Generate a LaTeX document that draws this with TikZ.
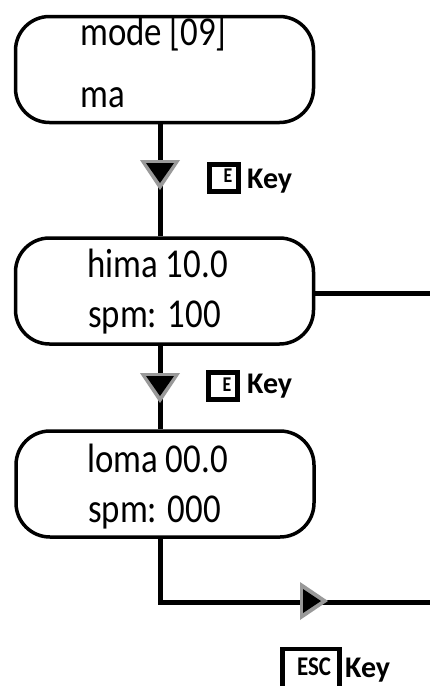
\documentclass[tikz,border=0pt]{standalone}
\usepackage{fontspec}
\setmainfont{Carlito}
\newfontfamily\dispfont[FakeStretch=0.85]{Carlito}
\begin{document}
\begin{tikzpicture}[x=1pt,y=-1pt,
  box/.style={draw, line width=3.5pt, rounded corners=34pt, minimum width=298pt, minimum height=106pt, inner sep=0pt},
  disp/.style={anchor=base west, inner sep=0pt, font=\dispfont\fontsize{41}{41}\selectfont},
  link/.style={line width=5pt},
  keybox/.style={draw, line width=5pt, inner sep=0pt, minimum width=29pt, minimum height=27pt},
  keyglyph/.style={inner sep=0pt, font=\dispfont\bfseries\fontsize{21}{21}\selectfont},
  keytext/.style={anchor=base west, inner sep=0pt, font=\bfseries\fontsize{30}{30}\selectfont},
  mkout/.style={fill=black!40},
  mkin/.style={fill=black}]
\useasboundingbox (0,0) rectangle (430,686);
\clip (0,0) rectangle (430,686);

% boxes
\node[box] (b1) at (164.5,69.5) {};
\node[box] (b2) at (164.5,291) {};
\node[box] (b3) at (165,484) {};

% texts
\node[disp] (t1a) at (80,45) {mode [09]};
\node[disp] (t1b) at (80,107) {ma};
\node[disp] (t2a) at (87,277) {hima 10.0};
\node[disp] (t2b) at (88,327) {spm: 100};
\node[disp] (t3a) at (87,472) {loma 00.0};
\node[disp] (t3b) at (88,522) {spm: 000};

% guide coordinates
\coordinate (vx) at (160,0);
\coordinate (rend) at (430,293);
\coordinate (bend) at (430,602);

% connectors
\draw[link] (b1.south -| vx) -- (b2.north -| vx);
\draw[link] (b2.south -| vx) -- (b3.north -| vx);
\draw[link] (b2.east |- rend) -- (rend);
\draw[link] (b3.south -| vx) |- (bend);

% markers
\fill[mkout] (140,160) -- (180,160) -- (160,190) -- cycle;
\fill[mkin] (146,163) -- (174,163) -- (160,183) -- cycle;
\fill[mkout] (140,373) -- (180,373) -- (160,403) -- cycle;
\fill[mkin] (146,376) -- (174,376) -- (160,396) -- cycle;
\fill[mkout] (300,582) -- (300,620) -- (328,601) -- cycle;
\fill[mkin] (303,589) -- (303,613) -- (321,601) -- cycle;

% keys
\node[keybox] (k1) at (223.5,177.5) {};
\node[keyglyph] (k1g) at (228,176) {E};
\node[keytext] (k1t) at (247,188) {Key};
\node[keybox] (k2) at (222.5,386) {};
\node[keyglyph] (k2g) at (227,385) {E};
\node[keytext] (k2t) at (247,393) {Key};
\node[keybox, minimum width=57pt, minimum height=48pt, line width=4.5pt] (k3) at (311,673) {};
\node[keyglyph, font=\dispfont\bfseries\fontsize{27}{27}\selectfont] (k3g) at (314,667) {ESC};
\node[keytext] (k3t) at (345,677) {Key};
\end{tikzpicture}
\end{document}
